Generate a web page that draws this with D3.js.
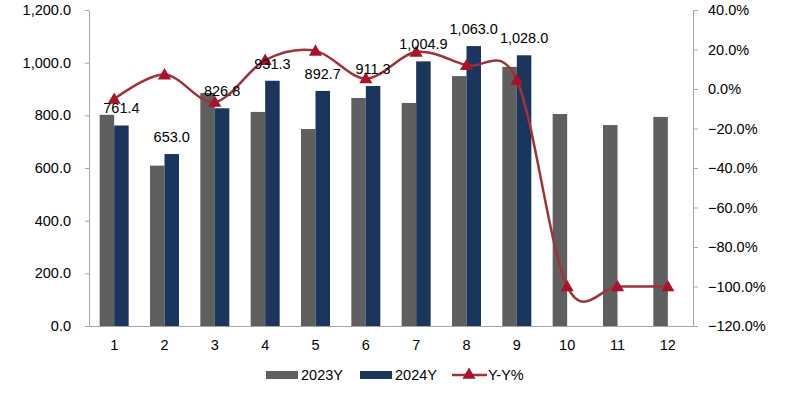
<!DOCTYPE html>
<html>
<head>
<meta charset="utf-8">
<script src="https://cdn.jsdelivr.net/npm/d3@7"></script>
<style>
  body { margin: 0; background: #fff; }
  text { font-family: "Liberation Sans", Arial, sans-serif; }
</style>
</head>
<body>
<div id="chart"></div>
<script>
// data
const months = ["1","2","3","4","5","6","7","8","9","10","11","12"];
const y2023 = [802, 609, 885, 813, 748, 866, 847, 949, 984, 805, 763, 794];
const y2024 = [761.4, 653.0, 826.8, 931.3, 892.7, 911.3, 1004.9, 1063.0, 1028.0];
const yoy = [-5.1, 7.3, -6.6, 14.6, 19.3, 5.3, 18.7, 12.0, 4.5, -100, -100, -100];
const leftTicks = [0, 200, 400, 600, 800, 1000, 1200];
const rightTicks = [-120, -100, -80, -60, -40, -20, 0, 20, 40];

const W = 809, H = 395;
const margin = {top: 10, right: 116, bottom: 69, left: 89},
    width = W - margin.left - margin.right,
    height = H - margin.top - margin.bottom;

const colGray = "#5f5f5f", colBlue = "#1a365d", colLine = "#a0333a", colMark = "#a8132a", axisCol = "#a6a6a6";

const svg = d3.select("#chart")
  .append("svg")
    .attr("width", W)
    .attr("height", H)
  .append("g")
    .attr("transform", `translate(${margin.left}, ${margin.top})`);

// scales
const x = d3.scaleBand()
  .domain(months)
  .range([0, width]);

const y = d3.scaleLinear()
  .domain([0, 1200])
  .range([height, 0]);

const y2 = d3.scaleLinear()
  .domain([-120, 40])
  .range([height, 0]);

const barW = 14.5;
const fmt = d3.format(",.1f");

// left axis
const leftAxis = svg.append("g")
  .call(d3.axisLeft(y).tickValues(leftTicks).tickSize(4).tickSizeOuter(0).tickPadding(14).tickFormat(fmt));
leftAxis.selectAll("text").style("font-size", "14.5px").attr("fill", "#000");

// right axis
const rightAxis = svg.append("g")
  .attr("transform", `translate(${width}, 0)`)
  .call(d3.axisRight(y2).tickValues(rightTicks).tickSize(5).tickSizeOuter(0).tickPadding(10).tickFormat(d => d3.format(".1f")(d) + "%"));
rightAxis.selectAll("text").style("font-size", "14.5px").attr("fill", "#000");

[leftAxis, rightAxis].forEach(a => {
  a.select(".domain").attr("stroke", axisCol);
  a.selectAll(".tick line").attr("stroke", axisCol);
});

// bars 2023
svg.selectAll(".b23")
  .data(y2023)
  .join("rect")
    .attr("x", (d, i) => x(months[i]) + x.bandwidth() / 2 - barW)
    .attr("y", d => y(d))
    .attr("width", barW)
    .attr("height", d => height - y(d))
    .attr("fill", colGray);

// bars 2024
svg.selectAll(".b24")
  .data(y2024)
  .join("rect")
    .attr("x", (d, i) => x(months[i]) + x.bandwidth() / 2)
    .attr("y", d => y(d))
    .attr("width", barW)
    .attr("height", d => height - y(d))
    .attr("fill", colBlue);

// bottom axis
const bottomAxis = svg.append("g")
  .attr("transform", `translate(0, ${height})`)
  .call(d3.axisBottom(x).tickSize(0).tickPadding(14));
bottomAxis.select(".domain").attr("stroke", axisCol);
bottomAxis.selectAll("text").style("font-size", "14.5px").attr("fill", "#000");

// line
const line = d3.line()
  .x((d, i) => x(months[i]) + x.bandwidth() / 2)
  .y(d => y2(d))
  .curve(d3.curveCatmullRom.alpha(0));

svg.append("path")
  .datum(yoy)
  .attr("d", line)
  .attr("fill", "none")
  .attr("stroke", colLine)
  .attr("stroke-width", 2.5);

svg.selectAll(".mark")
  .data(yoy)
  .join("path")
    .attr("d", d3.symbol(d3.symbolTriangle, 75))
    .attr("transform", (d, i) => `translate(${x(months[i]) + x.bandwidth() / 2}, ${y2(d) + 1})`)
    .attr("fill", colMark);

// data labels
svg.selectAll(".lbl")
  .data(y2024)
  .join("text")
    .attr("x", (d, i) => x(months[i]) + x.bandwidth() / 2 + barW / 2)
    .attr("y", d => y(d) - 12)
    .attr("text-anchor", "middle")
    .style("font-size", "14.5px")
    .attr("fill", "#000")
    .text(d => fmt(d));

// legend
const legend = d3.select("svg").append("g")
  .attr("transform", `translate(0, 375)`);

legend.append("rect").attr("x", 266).attr("y", -4).attr("width", 32).attr("height", 8).attr("fill", colGray);
legend.append("text").attr("x", 301).attr("y", 5).style("font-size", "14.5px").text("2023Y");
legend.append("rect").attr("x", 360).attr("y", -4).attr("width", 32).attr("height", 8).attr("fill", colBlue);
legend.append("text").attr("x", 395).attr("y", 5).style("font-size", "14.5px").text("2024Y");
legend.append("line").attr("x1", 452).attr("x2", 487).attr("y1", 0).attr("y2", 0)
  .attr("stroke", colLine).attr("stroke-width", 2.5);
legend.append("path").attr("d", d3.symbol(d3.symbolTriangle, 75))
  .attr("transform", "translate(469, 0)").attr("fill", colMark);
legend.append("text").attr("x", 488).attr("y", 5).style("font-size", "14.5px").text("Y-Y%");
</script>
</body>
</html>
